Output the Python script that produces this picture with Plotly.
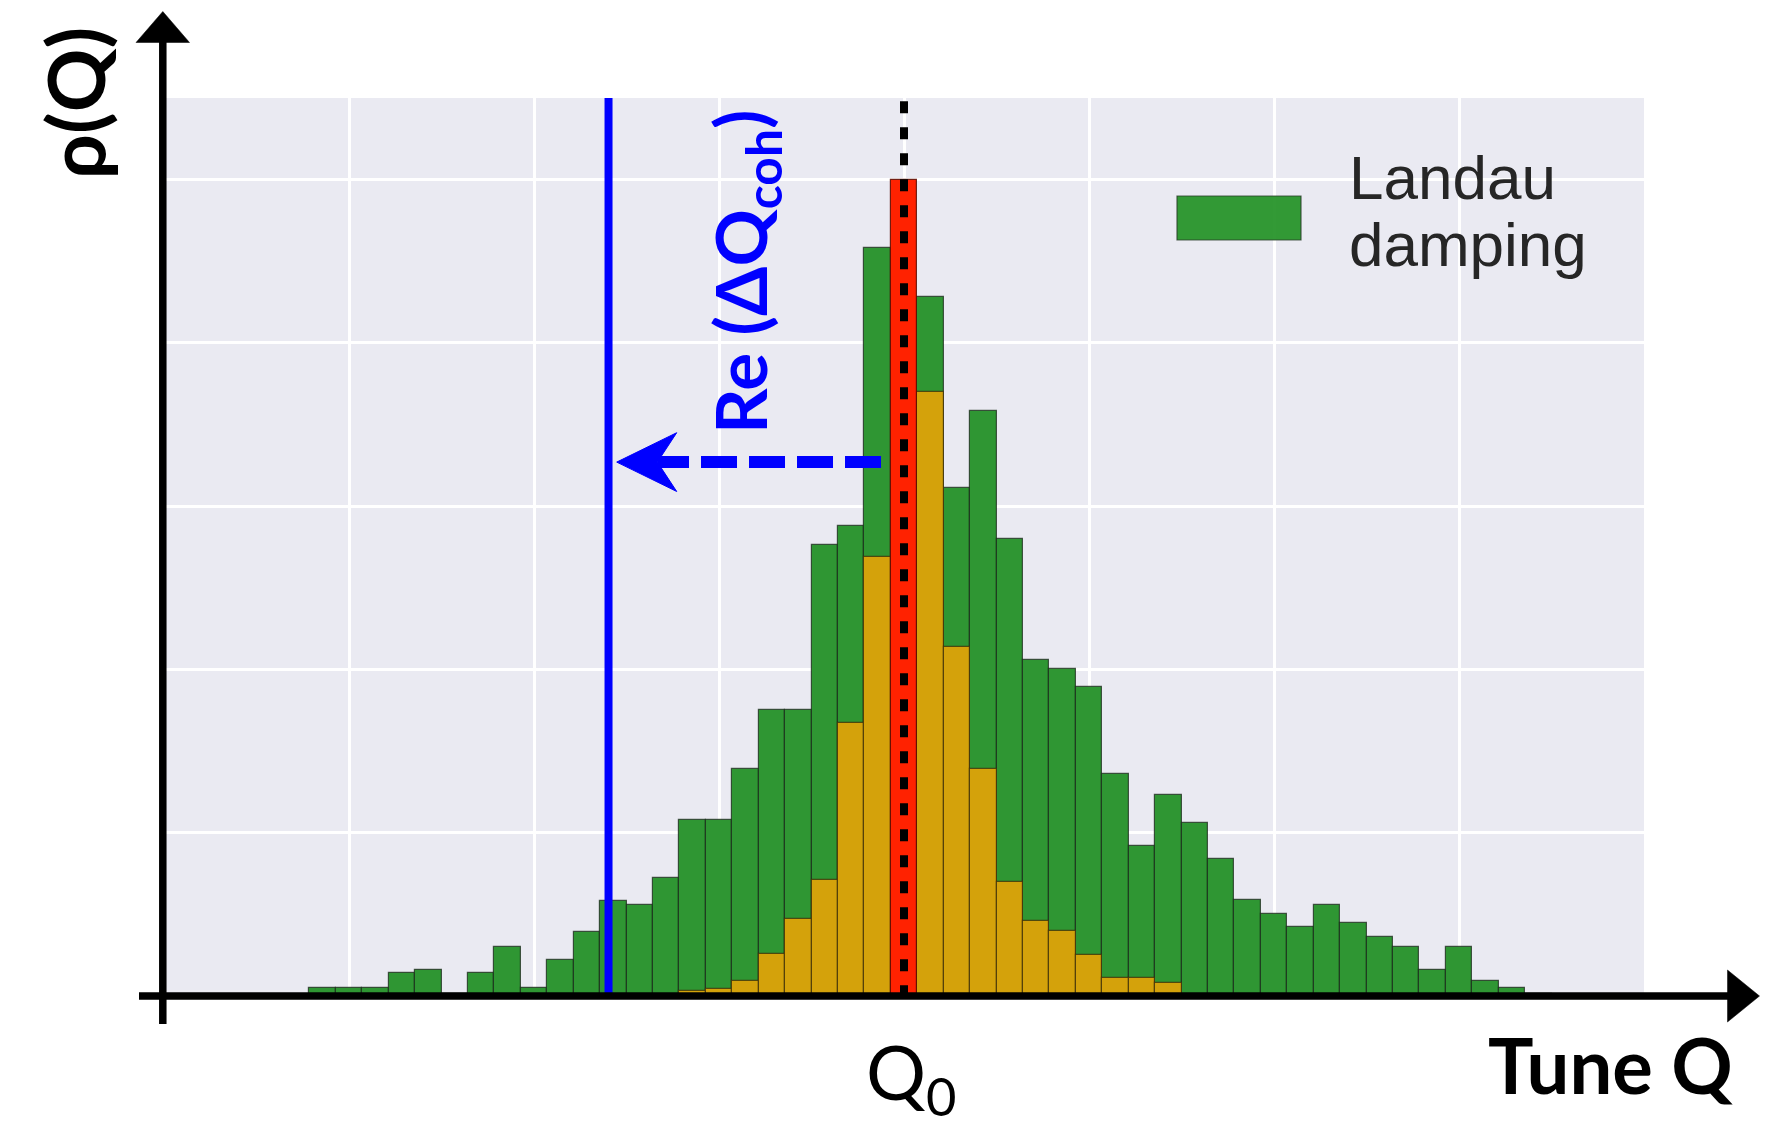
import plotly.graph_objects as go

# ---------------- data (bin index relative to Q0, bin width = 1) ----------------
bins = list(range(-22, 25))
landau_heights = [
    0.05, 0.05, 0.05, 0.14, 0.16, 0.01, 0.14, 0.30, 0.05, 0.22,   # -22 .. -13
    0.39, 0.58, 0.56, 0.72, 1.08, 1.08, 1.39, 1.75, 1.75, 2.76,   # -12 .. -3
    2.88, 4.58, None, 4.28, 3.11, 3.58, 2.80, 2.06, 2.00, 1.89,   # -2 .. 7
    1.36, 0.92, 1.23, 1.06, 0.84, 0.59, 0.50, 0.42, 0.56, 0.45,   # 8 .. 17
    0.36, 0.30, 0.16, 0.30, 0.09, 0.05, 0.01,                     # 18 .. 24
]
core_bins = list(range(-8, 11))
core_heights = [0.03, 0.04, 0.09, 0.26, 0.47, 0.71, 1.67, 2.69, None,
                3.70, 2.14, 1.39, 0.70, 0.46, 0.40, 0.25, 0.11, 0.11, 0.08]
q0_bin = [0]
q0_height = [5.0]
coherent_shift = -11.18          # Re(dQ_coh) position in bins
arrow_level = 3.27
grid_ticks = [-21, -14, -7, 0, 7, 14, 21]
tick_label_pos = [0.3]
tick_label_text = ["Q<sub>0</sub>"]

# ---------------- geometry helpers (pixels -> paper) ----------------
W, H = 1777, 1122
ML, MR, MT, MB = 164, 133, 98, 126
PW, PH = W - ML - MR, H - MT - MB


def fx(p):
    return (p - ML) / PW


def fy(p):
    return (H - MB - p) / PH


GREEN = "#2f9633"
ORANGE = "#d4a20b"
RED = "#ff2200"
BLUE = "#0000ff"

fig = go.Figure()
fig.add_trace(go.Bar(x=bins, y=landau_heights, width=1, name="Landau damping",
                     marker=dict(color=GREEN, line=dict(color="rgba(25,40,25,0.75)", width=1.2)),
                     showlegend=False))
fig.add_trace(go.Bar(x=core_bins, y=core_heights, width=1, name="core",
                     marker=dict(color=ORANGE, line=dict(color="rgba(60,45,10,0.75)", width=1.2)),
                     showlegend=False))
fig.add_trace(go.Bar(x=q0_bin, y=q0_height, width=1, name="Q0",
                     marker=dict(color=RED, line=dict(color="rgba(90,10,0,0.85)", width=1.2)),
                     showlegend=False))

shapes = []
# blue coherent line
shapes.append(dict(type="line", xref="x", yref="paper", x0=coherent_shift, x1=coherent_shift,
                   y0=0, y1=1, line=dict(color=BLUE, width=8), layer="above"))
# dotted Q0 line
shapes.append(dict(type="line", xref="x", yref="y", x0=0, x1=0, y0=5.48, y1=0,
                   line=dict(color="black", width=8, dash="12px,14px"), layer="above"))
# dashed arrow
shapes.append(dict(type="line", xref="x", yref="y", x0=-0.87, x1=-9.33, y0=arrow_level, y1=arrow_level,
                   line=dict(color=BLUE, width=12, dash="36px,12px"), layer="above"))
tip, back, notch, half = coherent_shift + 0.31, -8.60, -9.33, 0.18
shapes.append(dict(type="path", xref="x", yref="y",
                   path=f"M{tip},{arrow_level} L{back},{arrow_level + half} L{notch},{arrow_level} "
                        f"L{back},{arrow_level - half} Z",
                   fillcolor=BLUE, line=dict(color=BLUE, width=1), layer="above"))
# axes with arrowheads
shapes.append(dict(type="line", xref="paper", yref="paper", x0=fx(162.8), x1=fx(162.8),
                   y0=fy(1024), y1=fy(40), line=dict(color="black", width=7.5), layer="above"))
shapes.append(dict(type="path", xref="paper", yref="paper",
                   path=f"M{fx(162.8)},{fy(11.5)} L{fx(136)},{fy(42.5)} L{fx(189.5)},{fy(42.5)} Z",
                   fillcolor="black", line=dict(color="black", width=0.5), layer="above"))
shapes.append(dict(type="line", xref="paper", yref="paper", x0=fx(139), x1=fx(1730),
                   y0=fy(996), y1=fy(996), line=dict(color="black", width=7.5), layer="above"))
shapes.append(dict(type="path", xref="paper", yref="paper",
                   path=f"M{fx(1759.5)},{fy(996)} L{fx(1727.5)},{fy(970)} L{fx(1727.5)},{fy(1022)} Z",
                   fillcolor="black", line=dict(color="black", width=0.5), layer="above"))
# legend swatch
shapes.append(dict(type="rect", xref="paper", yref="paper", x0=fx(1177), x1=fx(1301),
                   y0=fy(240), y1=fy(196), fillcolor="rgba(34,145,37,0.92)",
                   line=dict(color="rgba(40,60,40,0.8)", width=1.2), layer="above"))

annotations = [
    dict(text="ρ(Q)", textangle=-90, x=fx(74), y=fy(103), xref="paper", yref="paper",
         xanchor="center", yanchor="middle", showarrow=False,
         font=dict(family="Lato", size=79, color="black", weight="bold")),
    dict(text="Re (ΔQ<sub>coh</sub>)", textangle=-90, x=fx(745), y=fy(272), xref="paper", yref="paper",
         xanchor="center", yanchor="middle", showarrow=False,
         font=dict(family="Lato", size=71, color=BLUE, weight="bold")),
    dict(text="Tune Q", x=fx(1486), y=fy(1064), xref="paper", yref="paper",
         xanchor="left", yanchor="middle", showarrow=False,
         font=dict(family="Lato", size=76, color="black", weight="bold")),
    dict(text="Landau", x=fx(1347), y=fy(177), xref="paper", yref="paper",
         xanchor="left", yanchor="middle", showarrow=False,
         font=dict(family="Liberation Sans", size=62, color="#262626")),
    dict(text="damping", x=fx(1347), y=fy(244), xref="paper", yref="paper",
         xanchor="left", yanchor="middle", showarrow=False,
         font=dict(family="Liberation Sans", size=62, color="#262626")),
]
for pos, txt in zip(tick_label_pos, tick_label_text):
    annotations.append(dict(text=txt, x=pos, y=fy(1024), xref="x", yref="paper",
                            xanchor="center", yanchor="top", showarrow=False,
                            font=dict(family="Lato", size=75, color="black")))

fig.update_layout(
    width=W, height=H,
    margin=dict(l=ML, r=MR, t=MT, b=MB),
    paper_bgcolor="white", plot_bgcolor="#eaeaf2",
    barmode="overlay", bargap=0,
    shapes=shapes, annotations=annotations,
    font=dict(family="Lato"),
    xaxis=dict(range=[-28, 28], tickmode="array", tickvals=grid_ticks, showticklabels=False,
               showgrid=True, gridcolor="white", gridwidth=3, zeroline=False, showline=False,
               ticks=""),
    yaxis=dict(range=[0, 5.5], tickmode="array", tickvals=[1, 2, 3, 4, 5], showticklabels=False,
               showgrid=True, gridcolor="white", gridwidth=3, zeroline=False, showline=False, ticks=""),
)

fig.write_html("out.html")
